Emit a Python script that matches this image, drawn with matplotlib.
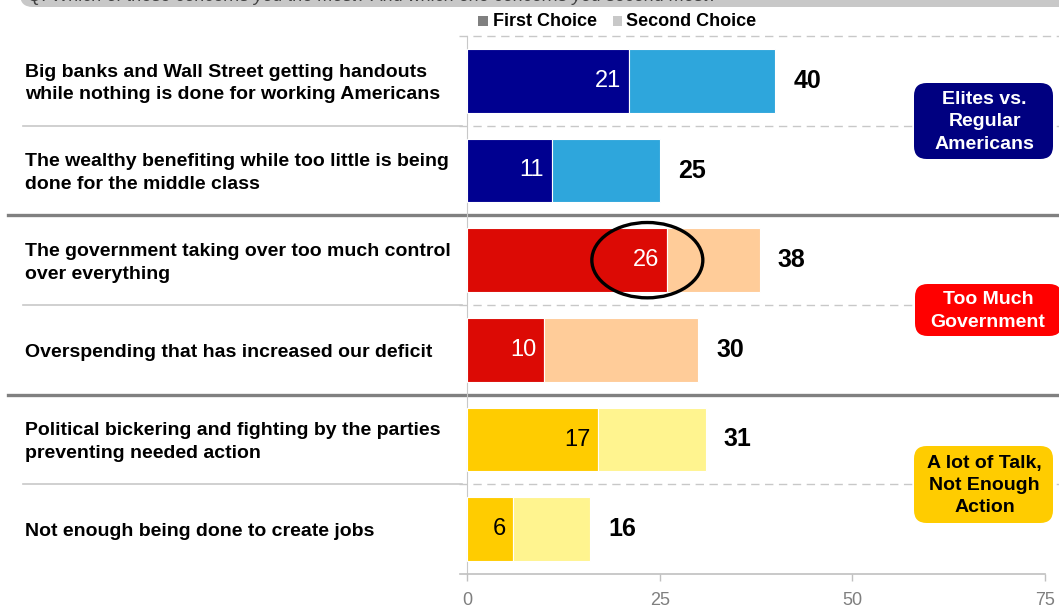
import numpy as np
import matplotlib
matplotlib.use('Agg')
import matplotlib.pyplot as plt
from matplotlib.patches import Ellipse, FancyBboxPatch, Rectangle
from matplotlib.lines import Line2D
from matplotlib.transforms import blended_transform_factory

plt.rcParams['font.family'] = ['Liberation Sans', 'DejaVu Sans']

# chart data
labels = [
    'Big banks and Wall Street getting handouts\nwhile nothing is done for working Americans',
    'The wealthy benefiting while too little is being\ndone for the middle class',
    'The government taking over too much control\nover everything',
    'Overspending that has increased our deficit',
    'Political bickering and fighting by the parties\npreventing needed action',
    'Not enough being done to create jobs',
]
first_choice = [21, 11, 26, 10, 17, 6]
second_choice = [19, 14, 12, 20, 14, 10]
totals = [40, 25, 38, 30, 31, 16]
series_names = ['First Choice', 'Second Choice']
group_names = ['Elites vs.\nRegular\nAmericans', 'Too Much\nGovernment',
               'A lot of Talk,\nNot Enough\nAction']
x_ticks = [0, 25, 50, 75]

# styles
first_colors = ['#000090', '#000090', '#DC0A05', '#DC0A05', '#FFCC00', '#FFCC00']
second_colors = ['#2EA6DC', '#2EA6DC', '#FFCC99', '#FFCC99', '#FFF48F', '#FFF48F']
inner_text = ['white', 'white', 'white', 'white', 'black', 'black']
group_fill = ['#000080', '#FF0000', '#FFCC00']
group_text = ['white', 'white', 'black']

W, H = 1059, 608
def fx(px):
    return px / W
def fy(py):
    return 1 - py / H

fig = plt.figure(figsize=(W / 100, H / 100), dpi=100)
ax = fig.add_axes([fx(467), fy(574), fx(1045) - fx(467), fy(36) - fy(574)])

n = len(labels)
ypos = np.arange(n)
ax.barh(ypos, first_choice, height=0.71, color=first_colors,
        edgecolor='white', linewidth=0.8, zorder=3)
ax.barh(ypos, second_choice, left=first_choice, height=0.71,
        color=second_colors, edgecolor='white', linewidth=0.8, zorder=3)

for i in range(n):
    ax.annotate(str(first_choice[i]), (first_choice[i], i), xytext=(-5.5, 0),
                textcoords='offset points', ha='right', va='center',
                fontsize=17, color=inner_text[i], zorder=5)
    tot = first_choice[i] + second_choice[i]
    ax.annotate(str(totals[i]), (tot, i), xytext=(13, 0),
                textcoords='offset points', ha='left', va='center',
                fontsize=18, fontweight='bold', color='black', zorder=5)

# circle around the highlighted value
ax.add_patch(Ellipse((23.4, 2), 14.4, 0.84, fill=False, edgecolor='black',
                     linewidth=2.4, zorder=6))

ax.set_xlim(0, 75)
ax.set_ylim(n - 0.5, -0.5)
ax.set_yticks([])
ax.set_xticks(x_ticks)
ax.tick_params(axis='x', colors='#C0C0C0', labelcolor='#7F7F7F',
               labelsize=13, length=5, width=1, pad=8)
for s in ['top', 'right', 'bottom']:
    ax.spines[s].set_visible(False)
ax.spines['left'].set_color('#C8C8C8')
ax.patch.set_alpha(0)

# bottom axis line, a little wider than the plot on the left
fig.add_artist(Line2D([fx(460), fx(1045)], [fy(574), fy(574)],
                      color='#C0C0C0', linewidth=1.2))

# row separators
tr = blended_transform_factory(fig.transFigure, ax.transData)
for b in [-0.5, 0.5, 2.5, 4.5]:
    ax.plot([fx(459), 1.0], [b, b], transform=tr, color='#C8C8C8',
            linewidth=1, linestyle=(0, (6, 4)), clip_on=False, zorder=1)
for b in [0.5, 2.5, 4.5]:
    ax.plot([fx(23), fx(462)], [b, b], transform=tr, color='#C8C8C8',
            linewidth=1.2, clip_on=False, zorder=1)
for b in [1.5, 3.5]:
    ax.plot([fx(8), 1.0], [b, b], transform=tr, color='#808080',
            linewidth=2.4, clip_on=False, zorder=2)

# category labels
for i in range(n):
    ax.text(fx(25), i + 0.03, labels[i], transform=tr, ha='left', va='center',
            fontsize=14, fontweight='bold', color='black', linespacing=1.45)

# group boxes
box_rows = [(83, 159), (284, 336), (446, 523)]
box_x = [(914, 1053), (915, 1062), (914, 1053)]
for g in range(3):
    x0, x1 = box_x[g]
    y0, y1 = box_rows[g]
    p = FancyBboxPatch((fx(x0), fy(y1)), fx(x1) - fx(x0), fy(y0) - fy(y1),
                       boxstyle='round,pad=0,rounding_size=0.012',
                       mutation_aspect=W / H,
                       transform=fig.transFigure, facecolor=group_fill[g],
                       edgecolor='none', zorder=8)
    fig.add_artist(p)
    fig.text(fx((x0 + min(x1, 1059)) / 2 + 1), fy((y0 + y1) / 2 + 1), group_names[g],
             ha='center', va='center', fontsize=14, fontweight='bold',
             color=group_text[g], linespacing=1.4, zorder=9)

# legend
fig.add_artist(Rectangle((fx(478), fy(26)), fx(10), fy(0) - fy(10),
                         transform=fig.transFigure, facecolor='#808080',
                         edgecolor='none'))
fig.text(fx(493), fy(21), series_names[0], fontsize=13, fontweight='bold',
         ha='left', va='center')
fig.add_artist(Rectangle((fx(613), fy(26)), fx(9), fy(0) - fy(10),
                         transform=fig.transFigure, facecolor='#C8C8C8',
                         edgecolor='none'))
fig.text(fx(626), fy(21), series_names[1], fontsize=13, fontweight='bold',
         ha='left', va='center')

# top banner, mostly cut off by the page edge
fig.add_artist(FancyBboxPatch((fx(20), fy(7)), fx(1100) - fx(20), fy(-30) - fy(7),
                              boxstyle='round,pad=0,rounding_size=0.012',
                              mutation_aspect=W / H, transform=fig.transFigure,
                              facecolor='#C8C8C8', edgecolor='none'))
fig.text(fx(28), fy(1), 'Q. Which of these concerns you the most? And which one concerns you second most?',
         fontsize=13, style='italic', color='#404040', ha='left', va='baseline')

fig.savefig('out.png', dpi=100)
